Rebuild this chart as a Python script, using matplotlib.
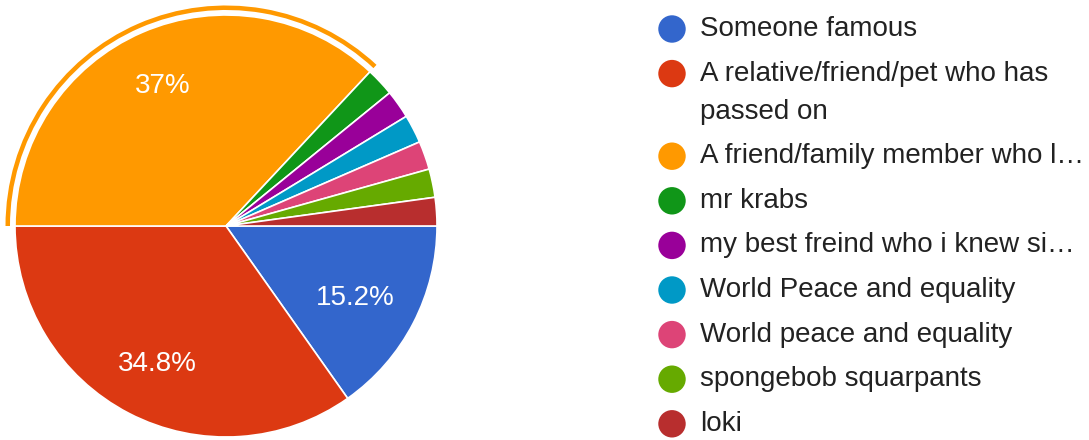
import matplotlib
matplotlib.use("Agg")
import matplotlib.pyplot as plt
import numpy as np
from matplotlib.patches import Wedge

# survey answers (46 responses)
labels = ["Someone famous",
          "A relative/friend/pet who has\npassed on",
          "A friend/family member who l\u2026",
          "mr krabs",
          "my best freind who i knew si\u2026",
          "World Peace and equality",
          "World peace and equality",
          "spongebob squarpants",
          "loki"]
counts = [7, 16, 17, 1, 1, 1, 1, 1, 1]
colors = ["#3366cc", "#dc3912", "#ff9900", "#109618", "#990099",
          "#0099c6", "#dd4477", "#66aa00", "#b82e2e"]
highlight = 2  # orange slice is selected

plt.rcParams['font.family'] = ['Liberation Sans', 'DejaVu Sans']

W, H = 1089, 440
fig = plt.figure(figsize=(W / 100, H / 100), dpi=100)
ax = fig.add_axes([0, 0, 1, 1])

cx, cy, R = 226, H - 226, 211


def pct(p):
    if p < 5:
        return ""
    return ("%.1f" % p).rstrip("0").rstrip(".") + "%"


wedges, texts, autotexts = ax.pie(
    counts, colors=colors, startangle=0, counterclock=False,
    center=(cx, cy), radius=R, autopct=pct, pctdistance=0.75,
    wedgeprops=dict(edgecolor="white", linewidth=1.2),
    textprops=dict(color="white", fontsize=20))

# google pulls the labels of narrower slices a bit inwards
label_dist = [0.69, 0.71, 0.75]
for w, t, d in zip(wedges, autotexts, label_dist):
    a = np.deg2rad((w.theta1 + w.theta2) / 2)
    t.set_position((cx + d * R * np.cos(a), cy + d * R * np.sin(a) - 5))

# selection ring round the highlighted slice
w = wedges[highlight]
ax.add_patch(Wedge((cx, cy), R + 9.5, w.theta1, w.theta2, width=4.5,
                   facecolor=colors[highlight], edgecolor="none"))

# legend
lx, tx = 672, 700
y = H - 29
for lab, col in zip(labels, colors):
    ax.scatter([lx], [y], s=390, color=col, edgecolors="none")
    lines = lab.split("\n")
    for i, ln in enumerate(lines):
        ax.text(tx, y - i * 38, ln, fontsize=20, color="#222222",
                va="center", ha="left")
    y -= 44.6 + 38 * (len(lines) - 1)

ax.set_xlim(0, W)
ax.set_ylim(0, H)
ax.set_aspect("equal")
ax.axis("off")

fig.savefig("out.png", dpi=100, facecolor="white")
